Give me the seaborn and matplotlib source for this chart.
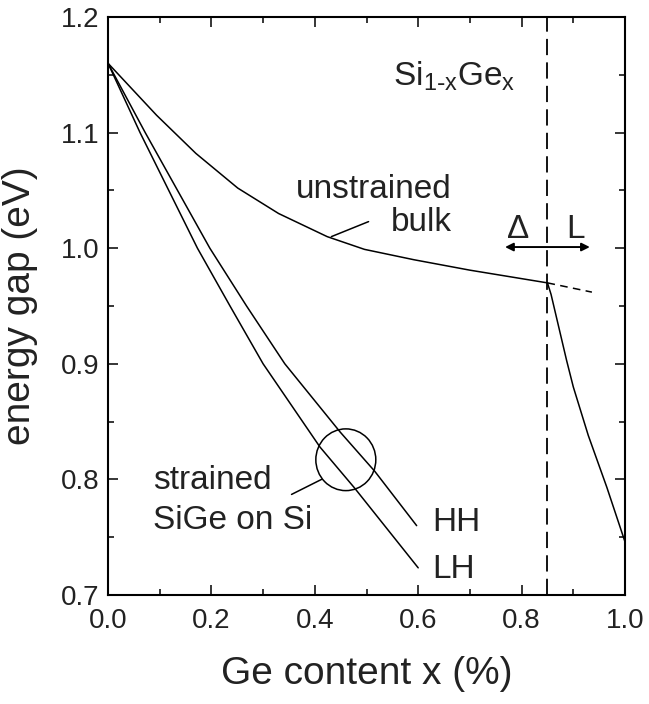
import numpy as np
import pandas as pd
import matplotlib
matplotlib.use("Agg")
import matplotlib.pyplot as plt
from matplotlib.patches import Ellipse
from matplotlib.ticker import MultipleLocator, FormatStrFormatter
from matplotlib import font_manager
import seaborn as sns

# ---------------- data ----------------
# unstrained bulk, Delta-like branch
x_bulk_delta = [0.0, 0.094, 0.17, 0.251, 0.33, 0.424, 0.496, 0.592, 0.70, 0.85]
e_bulk_delta = [1.160, 1.115, 1.082, 1.052, 1.030, 1.010, 0.999, 0.990, 0.981, 0.970]
# unstrained bulk, L-like branch
x_bulk_L = [0.85, 0.857, 0.887, 0.90, 0.929, 0.965, 1.0]
e_bulk_L = [0.970, 0.960, 0.903, 0.880, 0.838, 0.793, 0.746]
# dashed continuation of the Delta branch
x_ext = [0.85, 0.936]
e_ext = [0.970, 0.962]
# strained SiGe on Si
x_hh = [0.0, 0.072, 0.197, 0.268, 0.342, 0.449, 0.516, 0.597]
e_hh = [1.160, 1.100, 1.000, 0.950, 0.900, 0.841, 0.807, 0.760]
x_lh = [0.0, 0.062, 0.173, 0.236, 0.300, 0.410, 0.477, 0.600]
e_lh = [1.160, 1.100, 1.000, 0.950, 0.900, 0.828, 0.7925, 0.7235]

x_crossover = 0.85
xtick_vals = [0.0, 0.2, 0.4, 0.6, 0.8, 1.0]
ytick_vals = [0.7, 0.8, 0.9, 1.0, 1.1, 1.2]

# ---------------- style ----------------
sns.set_style("ticks")
names = {f.name for f in font_manager.fontManager.ttflist}
plt.rcParams['font.family'] = ['Liberation Sans', 'DejaVu Sans']
narrow = 'Liberation Sans Narrow' if 'Liberation Sans Narrow' in names else 'Liberation Sans'
tick_fs = 23 if narrow == 'Liberation Sans Narrow' else 20

W, H = 649, 704
fig = plt.figure(figsize=(W / 100, H / 100), dpi=100)
ax = fig.add_axes([108 / W, 1 - 595 / H, (625 - 108) / W, (595 - 17) / H])

lw = 1.1
def draw(x, y, **kw):
    df = pd.DataFrame({"x": x, "y": y})
    sns.lineplot(data=df, x="x", y="y", ax=ax, sort=False, estimator=None,
                 color="black", lw=kw.pop("lw", lw), **kw)

draw(x_bulk_delta, e_bulk_delta)
draw(x_bulk_L, e_bulk_L)
draw(x_ext, e_ext, linestyle=(0, (5, 3.5)))
draw(x_hh, e_hh)
draw(x_lh, e_lh)

ax.axvline(x_crossover, color="black", lw=1.3, linestyle=(0, (9, 4)))

ax.set_xlim(0.0, 1.0)
ax.set_ylim(0.7, 1.2)
ax.set_xticks(xtick_vals)
ax.set_yticks(ytick_vals)
ax.xaxis.set_minor_locator(MultipleLocator(0.1))
ax.yaxis.set_minor_locator(MultipleLocator(0.05))
ax.xaxis.set_major_formatter(FormatStrFormatter('%.1f'))
ax.yaxis.set_major_formatter(FormatStrFormatter('%.1f'))
ax.tick_params(which='both', direction='in', top=True, right=True, width=1.1,
               color='black')
ax.tick_params(which='major', length=7)
ax.tick_params(axis='y', which='major', pad=6)
ax.tick_params(axis='x', which='major', pad=9)
ax.tick_params(which='minor', length=4.5)
for lab in ax.get_xticklabels() + ax.get_yticklabels():
    lab.set_fontfamily(narrow)
    lab.set_fontsize(tick_fs)
    lab.set_color('#222222')
for s in ax.spines.values():
    s.set_linewidth(1.5)
    s.set_color('black')

ax.set_xlabel("Ge content x (%)", fontsize=28, color='#222222')
ax.set_ylabel("energy gap (eV)", fontsize=28, color='#222222')
ax.xaxis.set_label_coords(0.5, -0.105)
ax.yaxis.set_label_coords(-0.135, 0.5)

fs = 24
tc = '#222222'
ax.text(0.552, 1.141, r"Si$_{\mathregular{1\text{-}x}}$Ge$_{\mathregular{x}}$", fontsize=fs, color=tc,
        ha='left', va='baseline')
ax.text(0.665, 1.043, "unstrained", fontsize=fs, color=tc, ha='right', va='baseline')
ax.text(0.665, 1.0145, "bulk", fontsize=fs, color=tc, ha='right', va='baseline')
ax.plot([0.504, 0.432], [1.023, 1.010], color='black', lw=lw)

ax.text(0.087, 0.792, "strained", fontsize=fs, color=tc, ha='left', va='baseline')
ax.text(0.087, 0.757, "SiGe on Si", fontsize=fs, color=tc, ha='left', va='baseline')
ax.plot([0.355, 0.413], [0.787, 0.800], color='black', lw=lw)
ax.add_patch(Ellipse((0.46, 0.817), 0.116, 0.0534, fill=False, ec='black', lw=lw))

ax.text(0.627, 0.755, "HH", fontsize=fs, color=tc, ha='left', va='baseline')
ax.text(0.627, 0.715, "LH", fontsize=fs, color=tc, ha='left', va='baseline')

ax.text(0.793, 1.009, "Δ", fontsize=fs, color=tc, ha='center', va='baseline')
ax.text(0.905, 1.009, "L", fontsize=fs, color=tc, ha='center', va='baseline')
ax.annotate('', xy=(0.768, 1.001), xytext=(0.932, 1.001),
            arrowprops=dict(arrowstyle='<|-|>', lw=1.4, color='black',
                            mutation_scale=12, shrinkA=0, shrinkB=0))

fig.savefig("out.png", dpi=100)
